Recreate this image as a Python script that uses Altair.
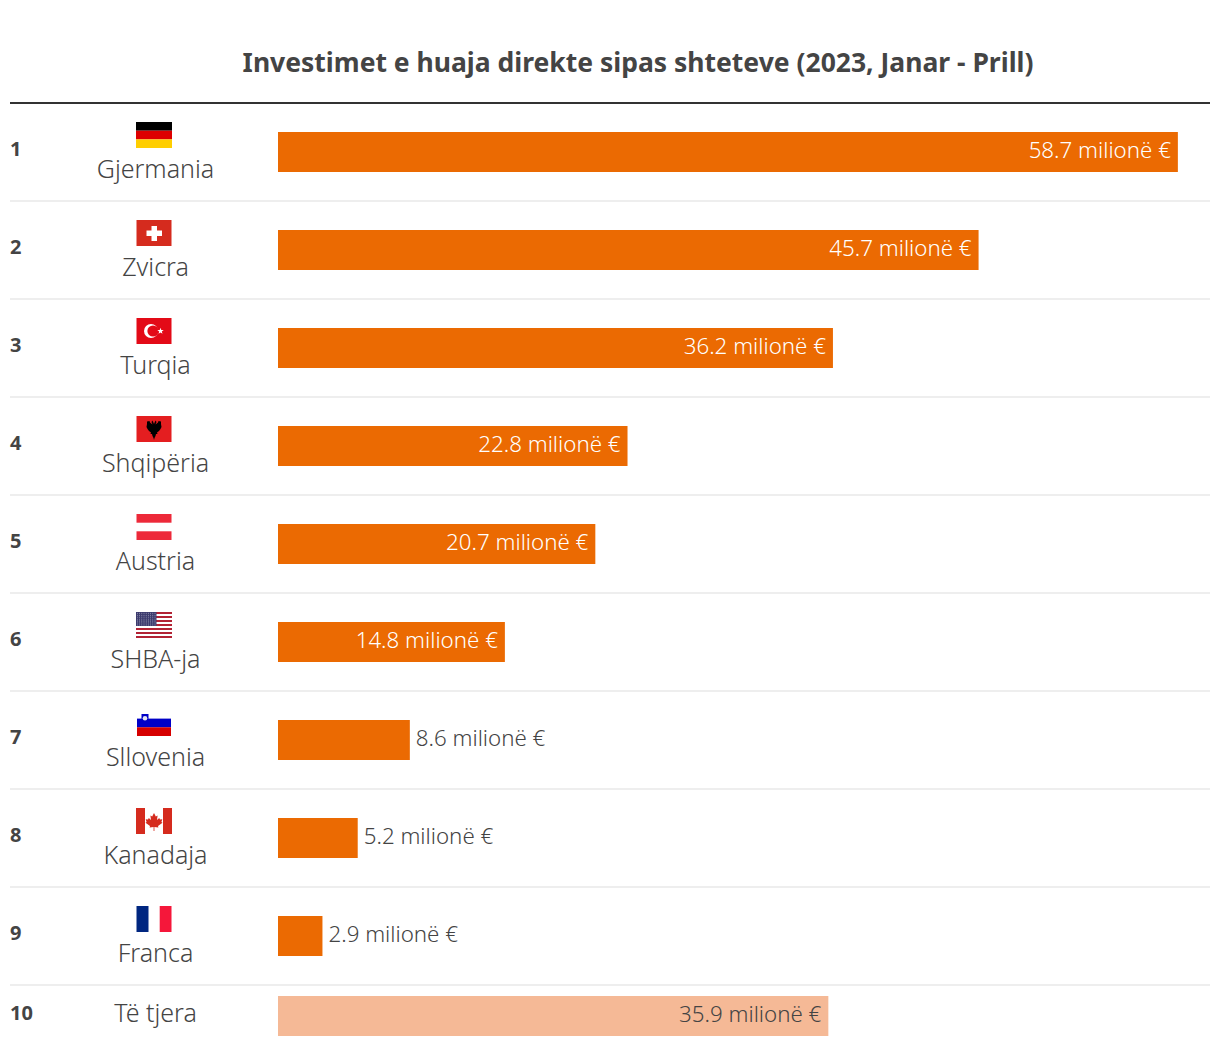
import base64
import altair as alt
import pandas as pd

ranks = list(range(1, 11))
countries = ["Gjermania", "Zvicra", "Turqia", "Shqipëria", "Austria", "SHBA-ja", "Sllovenia", "Kanadaja", "Franca", "Të tjera"]
values = [58.7, 45.7, 36.2, 22.8, 20.7, 14.8, 8.6, 5.2, 2.9, 35.9]
title_text = "Investimet e huaja direkte sipas shteteve (2023, Janar - Prill)"
FONT = "Noto Sans"
DARK = "#444444"
ORANGE = "#EB6A02"
LIGHT = "#F5B996"


def svg(body):
    s = f'<svg xmlns="http://www.w3.org/2000/svg" width="36" height="26" viewBox="0 0 36 26">{body}</svg>'
    return "data:image/svg+xml;base64," + base64.b64encode(s.encode()).decode()


def us_flag():
    b = '<rect width="36" height="26" fill="#fff"/>'
    for i in range(7):
        b += f'<rect y="{i*4}" width="36" height="2" fill="#B22234"/>'
    b += '<rect width="20.5" height="14" fill="#3C3B6E"/>'
    for r in range(7):
        for c in range(9):
            b += f'<circle cx="{1.4+c*2.2}" cy="{1.2+r*1.95}" r="0.42" fill="#fff"/>'
    return svg(b)


germany = svg('<rect width="36" height="8.7" fill="#000"/><rect y="8.7" width="36" height="8.7" fill="#D00"/><rect y="17.4" width="36" height="8.6" fill="#FFCE00"/>')
swiss = svg('<rect x="0.5" width="35" height="26" fill="#D52B1E"/><rect x="15.5" y="6" width="5.5" height="15" fill="#fff"/><rect x="10.5" y="10.5" width="15.5" height="5.5" fill="#fff"/>')
turkey = svg('<rect x="0.5" width="35" height="26" fill="#E30A17"/><circle cx="15" cy="13" r="7" fill="#fff"/><circle cx="17" cy="13" r="5.6" fill="#E30A17"/><polygon points="24.5,9.8 25.3,12 27.7,12 25.8,13.5 26.5,15.8 24.5,14.4 22.5,15.8 23.2,13.5 21.3,12 23.7,12" fill="#fff"/>')
albania = svg('<rect x="0.5" width="35" height="26" fill="#E41E20"/><polygon points="18,8 16.5,4.5 15.5,6 16.5,8.5 14,6.5 13.5,5 11,5.5 11,8 10.5,11 11.5,13 13,15 15,16.5 14.5,18 16,18 16.5,20 17.5,22 18,24 18.5,22 19.5,20 20,18 21.5,18 21,16.5 23,15 24.5,13 25.5,11 25,8 25,5.5 22.5,5 22,6.5 19.5,8.5 20.5,6 19.5,4.5" fill="#000"/>')
austria = svg('<rect x="0.5" width="35" height="8.7" fill="#ED2939"/><rect x="0.5" y="17.3" width="35" height="8.7" fill="#ED2939"/>')
slovenia = svg('<rect x="1" y="8.2" width="34" height="0.6" fill="#C8C8F0"/><rect x="1" y="8.7" width="34" height="8.7" fill="#0000C8"/><rect x="1" y="17.3" width="34" height="8.7" fill="#D60000"/><path d="M5.5,4 h7 v5 q0,3 -3.5,3.7 q-3.5,-0.7 -3.5,-3.7 z" fill="#0000C8"/><circle cx="9" cy="8.2" r="2.3" fill="#E6E6F0"/>')
canada = svg('<rect width="36" height="26" fill="#fff"/><rect width="9" height="26" fill="#D52B1E"/><rect x="27" width="9" height="26" fill="#D52B1E"/><polygon points="18,5 19.8,8.5 21.6,7.5 21,12 23.2,10 24,11.6 26.3,11.2 25.4,14 26.5,14.8 22,18 22.4,19.5 18.4,19 18.4,23 17.6,23 17.6,19 13.6,19.5 14,18 9.5,14.8 10.6,14 9.7,11.2 12,11.6 12.8,10 15,12 14.4,7.5 16.2,8.5" fill="#D52B1E"/>')
france = svg('<rect x="0.5" width="12" height="26" fill="#002680"/><rect x="23.7" width="11.8" height="26" fill="#F5173A"/>')
flags = [germany, swiss, turkey, albania, austria, us_flag(), slovenia, canada, france, None]

# the short last row sits closer to the ninth row
row_centres = ranks[:9] + [9.816]

df = pd.DataFrame({"rank": ranks, "country": countries, "value": values, "row": row_centres, "flag": flags})
df["label"] = df["value"].map(lambda v: f"{v:.1f} milionë €")
df["sep"] = df["row"] + 0.5

H = 941
base = alt.Chart(df)
x_scale = alt.Scale(domain=[0, 60], range=[270, 1189.8], nice=False, zero=True)
y_scale = alt.Scale(domain=[0.5, 0.5 + H / 98], range=[0, H], nice=False, zero=False, padding=0)
X = alt.X("value:Q", scale=x_scale, axis=None)
Y = alt.Y("row:Q", scale=y_scale, axis=None)

header = alt.Chart(pd.DataFrame({"row": [0.5]})).mark_rule(color="#333333", strokeWidth=2).encode(
    x=alt.value(2), x2=alt.value(1202), y=Y)
seps = base.transform_filter("datum.rank < 10").mark_rule(color="#EEEEEE", strokeWidth=2).encode(
    x=alt.value(2), x2=alt.value(1202), y=alt.Y("sep:Q", scale=y_scale, axis=None))
bars = base.mark_bar(size=40, orient="horizontal").encode(
    x=X, y=Y,
    color=alt.condition("datum.rank < 10", alt.value(ORANGE), alt.value(LIGHT)))
rank_text = base.mark_text(align="left", baseline="middle", font=FONT, fontWeight="bold", fontSize=20, color=DARK, dy=-2).encode(
    x=alt.value(2), y=Y, text="rank:N")
names_top = base.transform_filter("datum.rank < 10").mark_text(align="center", baseline="middle", font=FONT, fontSize=25, fontWeight=300, color=DARK, dy=18).encode(
    x=alt.value(147.5), y=Y, text="country:N")
names_last = base.transform_filter("datum.rank == 10").mark_text(align="center", baseline="middle", font=FONT, fontSize=25, fontWeight=300, color=DARK, dy=-2).encode(
    x=alt.value(147.5), y=Y, text="country:N")
images = base.transform_filter("datum.rank < 10").mark_image(width=36, height=26, yOffset=-17, align="center", baseline="middle").encode(
    x=alt.value(146), y=Y, url="flag:N")
inside = base.transform_filter("datum.value > 10 && datum.rank < 10").mark_text(align="right", baseline="middle", font=FONT, fontSize=22.3, fontWeight=300, color="#FFFFFF", dx=-7, dy=-1).encode(
    x=X, y=Y, text="label:N")
inside_last = base.transform_filter("datum.rank == 10").mark_text(align="right", baseline="middle", font=FONT, fontSize=22.3, fontWeight=300, color=DARK, dx=-7, dy=-1).encode(
    x=X, y=Y, text="label:N")
outside = base.transform_filter("datum.value <= 10").mark_text(align="left", baseline="middle", font=FONT, fontSize=22.3, fontWeight=300, color=DARK, dx=6, dy=-1).encode(
    x=X, y=Y, text="label:N")

chart = alt.layer(seps, header, bars, rank_text, names_top, names_last, images, inside, inside_last, outside).properties(
    width=1204,
    height=H,
    padding={"left": 0, "top": 95, "right": 0, "bottom": 0},
    autosize=alt.AutoSizeParams(type="none"),
    title=alt.TitleParams(title_text, font=FONT, fontSize=26.5, fontWeight="bold", color=DARK, anchor="middle", frame="group", dx=28, dy=29, offset=27, baseline="bottom"),
).configure_view(stroke=None)

chart.save("out.html", embed_options={"renderer": "svg", "actions": False})
